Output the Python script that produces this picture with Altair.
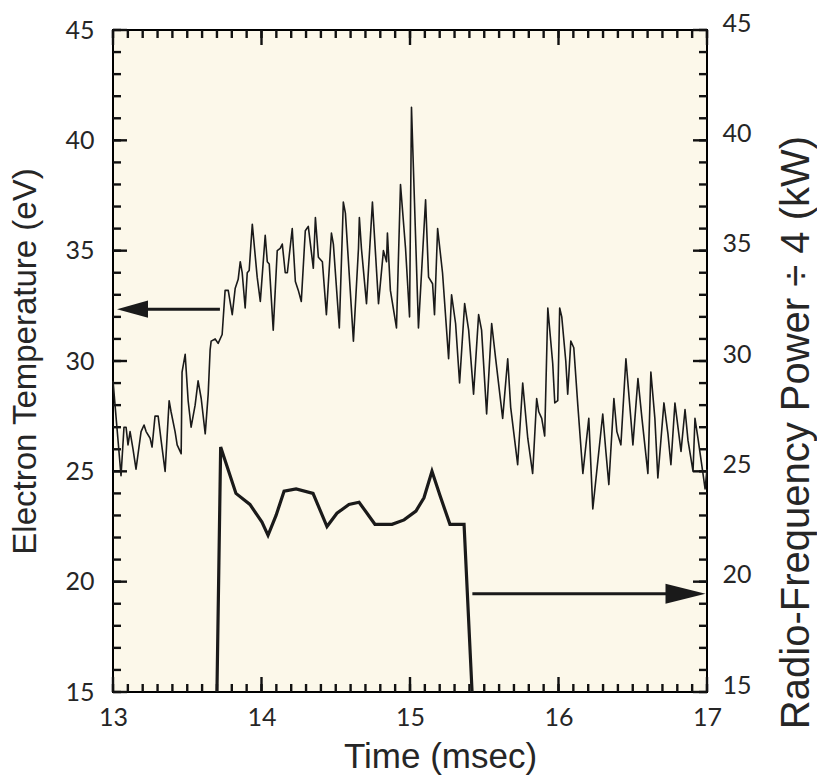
import altair as alt
import pandas as pd

# ---- data ----
time_te = [13.000, 13.054, 13.074, 13.088, 13.101, 13.115, 13.135, 13.155, 13.189, 13.209,
           13.223, 13.250, 13.263, 13.283, 13.304, 13.324, 13.351, 13.378, 13.391, 13.418,
           13.432, 13.459, 13.465, 13.486, 13.506, 13.526, 13.553, 13.573, 13.594, 13.621,
           13.641, 13.654, 13.661, 13.688, 13.708, 13.735, 13.755, 13.776, 13.803, 13.823,
           13.843, 13.857, 13.870, 13.890, 13.904, 13.917, 13.938, 13.971, 13.992, 14.025,
           14.039, 14.052, 14.079, 14.106, 14.126, 14.140, 14.160, 14.174, 14.207, 14.228,
           14.248, 14.268, 14.295, 14.315, 14.349, 14.363, 14.383, 14.410, 14.437, 14.471,
           14.484, 14.524, 14.551, 14.565, 14.619, 14.653, 14.659, 14.673, 14.707, 14.747,
           14.788, 14.821, 14.842, 14.848, 14.868, 14.909, 14.936, 14.970, 14.997, 15.010,
           15.057, 15.105, 15.125, 15.152, 15.165, 15.186, 15.219, 15.260, 15.280, 15.307,
           15.334, 15.368, 15.395, 15.428, 15.462, 15.482, 15.516, 15.550, 15.577, 15.624,
           15.658, 15.678, 15.725, 15.759, 15.793, 15.826, 15.853, 15.867, 15.887, 15.907,
           15.928, 15.961, 15.975, 15.995, 16.008, 16.022, 16.049, 16.062, 16.083, 16.103,
           16.130, 16.164, 16.204, 16.231, 16.298, 16.319, 16.339, 16.373, 16.393, 16.420,
           16.454, 16.487, 16.501, 16.535, 16.562, 16.602, 16.622, 16.649, 16.669, 16.710,
           16.737, 16.757, 16.784, 16.825, 16.852, 16.872, 16.906, 16.919, 16.939, 16.973,
           16.987, 17.000]
temp_te = [29.1, 24.8, 27.0, 27.0, 26.2, 26.8, 26.0, 25.1, 26.8, 27.1,
           26.8, 26.5, 26.1, 27.5, 27.5, 26.4, 25.0, 28.2, 27.7, 26.8,
           26.2, 25.8, 29.5, 30.3, 28.2, 27.0, 28.0, 29.1, 28.3, 26.7,
           28.5, 30.5, 30.9, 31.0, 30.8, 31.2, 33.2, 33.2, 32.1, 33.3,
           33.7, 34.5, 34.0, 32.4, 34.0, 34.1, 36.2, 33.8, 32.7, 35.7,
           34.5, 34.4, 31.4, 35.0, 35.1, 35.3, 34.0, 34.0, 36.0, 33.6,
           33.2, 32.7, 35.9, 36.1, 34.2, 36.5, 34.7, 34.5, 32.1, 35.8,
           35.3, 31.5, 37.2, 36.7, 30.9, 35.1, 36.5, 35.1, 32.6, 37.2,
           32.6, 35.0, 34.5, 35.8, 33.2, 31.5, 38.0, 35.1, 32.0, 41.5,
           31.5, 37.3, 33.8, 33.5, 32.1, 36.0, 34.0, 30.1, 33.0, 31.7,
           29.0, 32.6, 31.4, 28.5, 32.1, 31.4, 27.6, 31.7, 30.1, 27.4,
           30.1, 27.9, 25.3, 29.0, 26.5, 24.9, 28.3, 27.7, 27.4, 26.6,
           32.4, 29.9, 28.1, 28.2, 32.4, 32.0, 30.0, 28.5, 30.9, 30.6,
           28.0, 24.9, 27.4, 23.3, 27.6, 25.9, 24.4, 28.3, 26.8, 26.2,
           30.1, 27.4, 26.2, 29.2, 27.4, 24.9, 29.5, 27.4, 24.7, 28.1,
           26.7, 25.3, 28.1, 25.9, 27.8, 26.4, 25.0, 27.4, 26.5, 24.9,
           24.2, 25.1]

time_rf = [13.700, 13.725, 13.828, 13.922, 14.003, 14.044, 14.098, 14.152, 14.233, 14.347,
           14.441, 14.508, 14.589, 14.657, 14.764, 14.879, 14.960, 15.040, 15.094, 15.148,
           15.202, 15.269, 15.364, 15.418]
power_rf = [15.0, 26.1, 24.0, 23.5, 22.7, 22.1, 23.0, 24.1, 24.2, 24.0,
            22.5, 23.1, 23.5, 23.6, 22.6, 22.6, 22.8, 23.2, 23.8, 25.0,
            23.9, 22.6, 22.6, 15.0]

# arrows: level, tail start/end, tip
arrow_te_level = [32.35]
arrow_te_start = [13.20]
arrow_te_end = [13.72]
arrow_te_tip = [13.027]
arrow_rf_level = [19.45]
arrow_rf_start = [15.42]
arrow_rf_end = [16.86]
arrow_rf_tip = [16.99]

x_major = [13, 14, 15, 16, 17]
x_minor = [round(13 + 0.1 * i, 1) for i in range(41)]
y_major = [15, 20, 25, 30, 35, 40, 45]
y_minor = list(range(15, 46))

# ---- layout / styling ----
W, H = 594, 662
X_DOM, Y_DOM = [13, 17], [15, 45]
NUM_FONT = "Lato"
TITLE_FONT = "Liberation Sans"
INK = "#1a1a1a"
TXT = "#262626"

te_df = pd.DataFrame({"t": time_te, "T": temp_te})
rf_df = pd.DataFrame({"t": time_rf, "P": power_rf})
arr_te = pd.DataFrame({"lvl": arrow_te_level, "a": arrow_te_start, "b": arrow_te_end, "tip": arrow_te_tip})
arr_rf = pd.DataFrame({"lvl": arrow_rf_level, "a": arrow_rf_start, "b": arrow_rf_end, "tip": arrow_rf_tip})

xs = alt.Scale(domain=X_DOM, nice=False, zero=False)
ys = alt.Scale(domain=Y_DOM, nice=False, zero=False)

x_label_axis = alt.Axis(orient="bottom", values=x_major, format="d", ticks=False, tickSize=0,
                        domain=False, grid=False, labelFont=NUM_FONT, labelFontSize=25,
                        labelColor=TXT, labelPadding=13, labelFlush=False, labelOverlap=False,
                        title="Time (msec)", titleFont=TITLE_FONT, titleFontSize=35,
                        titleFontWeight="normal", titleColor=TXT, titleX=327, titleY=64,
                        titleAlign="center", titleBaseline="middle")
y_left_axis = alt.Axis(orient="left", values=y_major, format="d", ticks=False, tickSize=0,
                       domain=False, grid=False, labelFont=NUM_FONT, labelFontSize=25,
                       labelColor=TXT, labelPadding=19, labelFlush=False, labelOverlap=False,
                       title="Electron Temperature (eV)", titleFont=TITLE_FONT, titleFontSize=33,
                       titleFontWeight="normal", titleColor=TXT, titleAngle=270,
                       titleX=-88, titleY=331, titleAlign="center", titleBaseline="middle")
y_right_axis = alt.Axis(orient="right", values=y_major, format="d", ticks=False, tickSize=0,
                        domain=False, grid=False, labelFont=NUM_FONT, labelFontSize=25,
                        labelColor=TXT, labelPadding=15, labelOffset=-7, labelFlush=False,
                        labelOverlap=False,
                        title="Radio-Frequency Power \u00f7 4 (kW)", titleFont=TITLE_FONT,
                        titleFontSize=40, titleFontWeight="normal", titleColor=TXT,
                        titleAngle=270, titleX=89, titleY=402, titleAlign="center",
                        titleBaseline="middle")

LEFT_HEAD = "M 0 0 L 2 -0.55 L 2 0.55 Z"
RIGHT_HEAD = "M 0 0 L -2 -0.5 L -2 0.5 Z"

temp_line = alt.Chart(te_df).mark_line(color=INK, strokeWidth=1.6, strokeJoin="round").encode(
    x=alt.X("t:Q", scale=xs, axis=x_label_axis),
    y=alt.Y("T:Q", scale=ys, axis=y_left_axis),
)
power_line = alt.Chart(rf_df).mark_line(color=INK, strokeWidth=3.2, strokeJoin="miter").encode(
    x=alt.X("t:Q", scale=xs, axis=None),
    y=alt.Y("P:Q", scale=ys, axis=y_right_axis),
)
te_rule = alt.Chart(arr_te).mark_rule(color=INK, strokeWidth=3).encode(
    x=alt.X("a:Q", scale=xs, axis=None),
    x2="b:Q",
    y=alt.Y("lvl:Q", scale=ys, axis=None),
)
te_head = alt.Chart(arr_te).mark_point(shape=LEFT_HEAD, size=961, filled=True, color=INK, opacity=1).encode(
    x=alt.X("tip:Q", scale=xs, axis=None),
    y=alt.Y("lvl:Q", scale=ys, axis=None),
)
rf_rule = alt.Chart(arr_rf).mark_rule(color=INK, strokeWidth=3).encode(
    x=alt.X("a:Q", scale=xs, axis=None),
    x2="b:Q",
    y=alt.Y("lvl:Q", scale=ys, axis=None),
)
rf_head = alt.Chart(arr_rf).mark_point(shape=RIGHT_HEAD, size=1600, filled=True, color=INK, opacity=1).encode(
    x=alt.X("tip:Q", scale=xs, axis=None),
    y=alt.Y("lvl:Q", scale=ys, axis=None),
)

# pixel tick lengths converted to data units of the perpendicular scale
PX_X = (X_DOM[1] - X_DOM[0]) / W
PX_Y = (Y_DOM[1] - Y_DOM[0]) / H
TICK_W = 2.4


def edge_ticks(values, side, length_px):
    """Inward ticks drawn as short rules from the frame edge into the plot."""
    if side in ("bottom", "top"):
        edge = Y_DOM[0] if side == "bottom" else Y_DOM[1]
        inner = edge + length_px * PX_Y if side == "bottom" else edge - length_px * PX_Y
        df = pd.DataFrame({"tv": values, "e0": [edge] * len(values), "e1": [inner] * len(values)})
        return alt.Chart(df).mark_rule(color="#111111", strokeWidth=TICK_W).encode(
            x=alt.X("tv:Q", scale=xs, axis=None),
            y=alt.Y("e0:Q", scale=ys, axis=None),
            y2="e1:Q",
        )
    edge = X_DOM[0] if side == "left" else X_DOM[1]
    inner = edge + length_px * PX_X if side == "left" else edge - length_px * PX_X
    df = pd.DataFrame({"tv": values, "e0": [edge] * len(values), "e1": [inner] * len(values)})
    return alt.Chart(df).mark_rule(color="#111111", strokeWidth=TICK_W).encode(
        y=alt.Y("tv:Q", scale=ys, axis=None),
        x=alt.X("e0:Q", scale=xs, axis=None),
        x2="e1:Q",
    )


ticks = [
    edge_ticks(x_minor, "bottom", 8), edge_ticks(x_major, "bottom", 15),
    edge_ticks(x_minor, "top", 8), edge_ticks(x_major, "top", 15),
    edge_ticks(y_minor, "left", 8), edge_ticks(y_major, "left", 14),
    edge_ticks(y_minor, "right", 8), edge_ticks(y_major, "right", 14),
]

chart = alt.layer(*ticks, temp_line, power_line, te_rule, te_head, rf_rule, rf_head).resolve_axis(
    x="independent", y="independent"
).properties(
    width=W, height=H,
    autosize=alt.AutoSizeParams(type="none"),
    padding={"left": 113, "top": 30, "right": 110, "bottom": 84},
    background="white",
).configure_view(
    stroke="black", strokeWidth=2, fill="#fcf8ea"
)

chart.save("out.html", embed_options={"renderer": "svg", "actions": False})
